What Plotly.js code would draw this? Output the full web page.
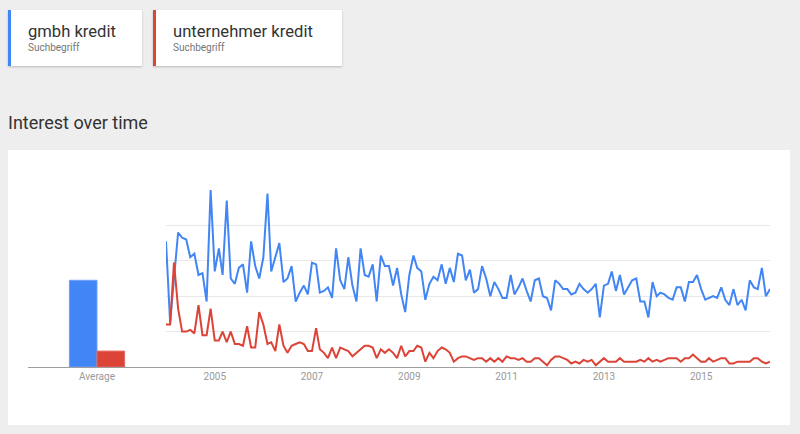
<!DOCTYPE html>
<html><head><meta charset="utf-8">
<script src="https://cdn.plot.ly/plotly-3.0.1.min.js"></script>
<style>
html,body{margin:0;padding:0;width:800px;height:434px;overflow:hidden;background:#eeeeee;font-family:Roboto,Arial,sans-serif;}
.card{position:absolute;top:10px;height:56px;background:#fff;box-shadow:0 1px 2px rgba(0,0,0,0.22);box-sizing:border-box;}
.card .t{position:absolute;left:17px;top:12px;font-size:16.6px;color:#333;line-height:20px;white-space:nowrap;}
.card .s{position:absolute;left:17px;top:32px;font-size:10px;color:#757575;line-height:12px;}
#title{position:absolute;left:8px;top:111px;font-size:18px;color:#333;line-height:24px;}
#panel{position:absolute;left:8px;top:150px;width:782px;height:275px;background:#fff;}
#chart{position:absolute;left:0;top:0;width:782px;height:275px;}
</style></head>
<body>
<div class="card" style="left:8px;width:134px;border-left:3px solid #4285f4;"><div class="t" id="t1"></div><div class="s">Suchbegriff</div></div>
<div class="card" style="left:153px;width:189px;border-left:3px solid #db4437;"><div class="t" id="t2"></div><div class="s">Suchbegriff</div></div>
<div id="title">Interest over time</div>
<div id="panel"><div id="chart"></div></div>
<script>
const terms = ["gmbh kredit", "unternehmer kredit"];
const startYear = 2004;
const gmbh = [71,25,50,76,73,72,62,64,52,53,37,100,54,67,52,94,50,47,56,58,42,71,57,50,62,
98,54,62,70,48,50,57,37,42,46,41,59,58,42,43,45,39,67,49,44,62,46,37,67,52,
51,58,37,63,57,57,46,56,41,31,52,63,56,54,38,47,51,49,58,47,56,48,64,63,49,
55,42,44,57,50,40,48,44,39,39,52,41,45,50,43,37,49,50,40,39,32,49,47,44,44,
41,42,47,44,42,44,47,28,46,47,54,43,52,41,45,49,50,37,37,28,48,40,42,41,39,
38,45,45,37,48,48,52,44,38,39,40,39,45,38,35,44,35,38,32,49,45,44,56,40,44];
const unternehmer = [24,24,59,33,20,20,21,19,35,18,18,33,15,15,20,14,20,13,13,12,23,11,11,31,24,
13,14,9,24,12,8,12,13,14,13,9,9,22,10,8,5,11,5,11,10,9,6,8,10,12,
12,11,5,10,8,10,8,5,12,6,9,9,12,11,3,8,5,9,11,10,8,3,5,6,6,
5,4,5,5,3,5,3,5,3,6,5,5,4,5,3,3,5,5,3,1,4,6,6,5,4,
2,3,2,4,3,4,1,3,5,3,3,3,5,3,3,3,3,4,3,5,3,4,3,4,5,
5,5,3,5,5,7,5,3,3,5,3,4,5,5,2,2,3,3,3,3,5,5,3,2,3];
const averages = [49, 9];
const avgLabel = "Average";
const tickYears = [2005, 2007, 2009, 2011, 2013, 2015];
const colors = ["#4285f4", "#db4437"];

document.getElementById('t1').textContent = terms[0];
document.getElementById('t2').textContent = terms[1];

const dates = gmbh.map((_, i) => {
  const y = startYear + Math.floor(i / 12), m = i % 12 + 1;
  return y + '-' + (m < 10 ? '0' + m : m) + '-01';
});
const W = 782, H = 275;
const xDom = [158 / W, 762 / W];
const bDom = [20 / W, 158 / W];
const yDom = [(H - 217) / H, (H - 40) / H];

const traces = [
  {x: dates, y: gmbh, type: 'scatter', mode: 'lines', line: {color: colors[0], width: 2}, xaxis: 'x', yaxis: 'y', hoverinfo: 'none'},
  {x: dates, y: unternehmer, type: 'scatter', mode: 'lines', line: {color: colors[1], width: 2}, xaxis: 'x', yaxis: 'y', hoverinfo: 'none'},
  {x: [avgLabel], y: [averages[0]], type: 'bar', marker: {color: colors[0], line: {color: '#6fa0f6', width: 1}}, xaxis: 'x2', yaxis: 'y2', hoverinfo: 'none'},
  {x: [avgLabel], y: [averages[1]], type: 'bar', marker: {color: colors[1], line: {color: '#e46a5f', width: 1}}, xaxis: 'x2', yaxis: 'y2', hoverinfo: 'none'}
];
const tickFont = {family: 'Roboto, Arial, sans-serif', size: 10, color: '#999'};
const layout = {
  width: W, height: H,
  margin: {l: 0, r: 0, t: 0, b: 0},
  paper_bgcolor: 'rgba(0,0,0,0)', plot_bgcolor: 'rgba(0,0,0,0)',
  showlegend: false,
  barmode: 'group', bargap: 0.6, bargroupgap: 0.0,
  xaxis: {domain: xDom, type: 'date', range: [dates[0], dates[dates.length - 1]],
    tickvals: tickYears.map(y => y + '-01-01'), ticktext: tickYears.map(String),
    showgrid: false, zeroline: false, showline: true, linecolor: '#9e9e9e', linewidth: 1,
    ticks: '', tickfont: tickFont, anchor: 'y', fixedrange: true},
  yaxis: {domain: yDom, range: [0, 100], tickvals: [20, 40, 60, 80, 100], showticklabels: false,
    showgrid: true, gridcolor: '#e8e8e8', gridwidth: 1, zeroline: false, showline: false, anchor: 'x', fixedrange: true},
  xaxis2: {domain: bDom, type: 'category', showgrid: false, zeroline: false, showline: true,
    linecolor: '#9e9e9e', linewidth: 1, ticks: '', tickfont: tickFont, anchor: 'y2', fixedrange: true},
  yaxis2: {domain: yDom, range: [0, 100], showgrid: false, showticklabels: false, zeroline: false,
    showline: false, anchor: 'x2', fixedrange: true}
};
Plotly.newPlot('chart', traces, layout, {displayModeBar: false, staticPlot: true});
</script>
</body></html>
